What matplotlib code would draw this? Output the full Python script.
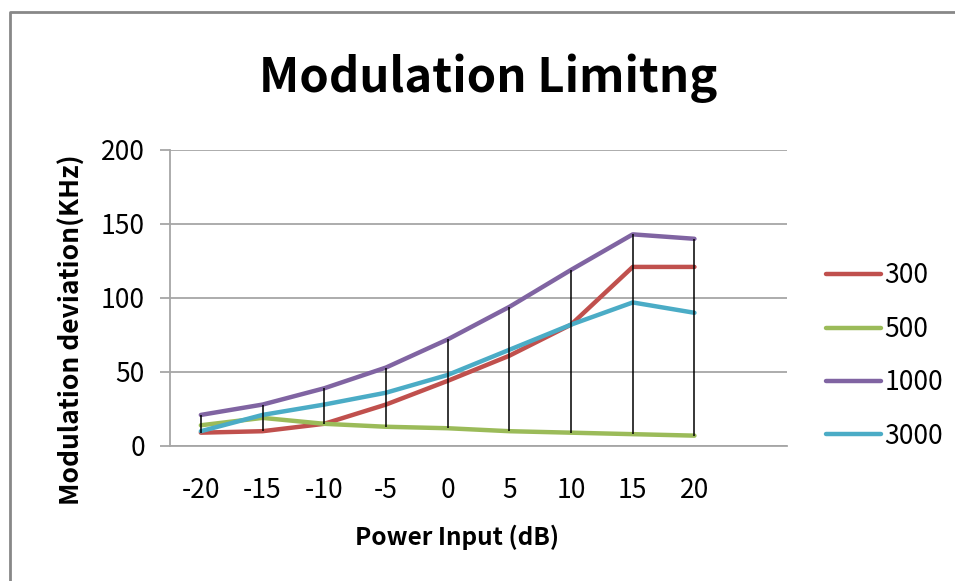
import matplotlib
matplotlib.use("Agg")
import matplotlib.pyplot as plt
from matplotlib.lines import Line2D

plt.rcParams['font.family'] = ['Noto Sans CJK KR', 'DejaVu Sans']

# power input (dB) categories
power_db = [-20, -15, -10, -5, 0, 5, 10, 15, 20]

# modulation deviation (KHz) per modulating frequency
dev_300 = [9, 10, 15, 28, 44, 61, 82, 121, 121]
dev_500 = [14, 19, 15, 13, 12, 10, 9, 8, 7]
dev_1000 = [21, 28, 39, 53, 72, 94, 119, 143, 140]
dev_3000 = [10, 21, 28, 36, 48, 65, 82, 97, 90]

series = [("300", dev_300, "#c0504d"),
          ("500", dev_500, "#9bbb59"),
          ("1000", dev_1000, "#8064a2"),
          ("3000", dev_3000, "#4bacc6")]

fig = plt.figure(figsize=(9.55, 5.81), dpi=100)
ax = fig.add_axes([170/955, 1 - 446/581, 617/955, 296/581])

xs = list(range(len(power_db)))
for name, vals, col in series:
    ax.plot(xs, vals, color=col, lw=3.2, label=name, solid_capstyle='round', zorder=3)

# high-low lines between the series
lows = [min(v) for v in zip(dev_300, dev_500, dev_1000, dev_3000)]
highs = [max(v) for v in zip(dev_300, dev_500, dev_1000, dev_3000)]
ax.vlines(xs, lows, highs, color='black', lw=1.1, zorder=4)

ax.set_xlim(-0.5, len(power_db) + 0.5)
ax.set_ylim(0, 200)
ax.set_yticks(range(0, 201, 50))
ax.set_xticks(xs)
ax.set_xticklabels([str(p) for p in power_db])
ax.yaxis.grid(True, color='#a6a6a6', lw=1.3)
ax.set_axisbelow(True)
for s in ['top', 'right']:
    ax.spines[s].set_visible(False)
ax.spines['left'].set_color('#a6a6a6')
ax.spines['bottom'].set_color('#a6a6a6')
ax.spines['left'].set_linewidth(1.3)
ax.spines['bottom'].set_linewidth(1.3)
ax.tick_params(axis='y', length=7, color='#a6a6a6', width=1.3, labelsize=19, pad=11)
ax.tick_params(axis='x', length=0, labelsize=19, pad=22)

fig.text(488/955, 1 - 78/581, "Modulation Limitng", ha='center', va='center',
         fontsize=34, fontweight='bold')
fig.text(72/955, 1 - 330/581, "Modulation deviation(KHz)", ha='center', va='center',
         rotation=90, fontsize=19, fontweight='bold')
fig.text(457/955, 1 - 537/581, "Power Input (dB)", ha='center', va='center',
         fontsize=17.5, fontweight='bold')

ax.legend(loc='center left', bbox_to_anchor=(802/955, 1 - 356/581),
          bbox_transform=fig.transFigure, frameon=False, fontsize=19,
          handlelength=2.1, handletextpad=0.12, labelspacing=1.0)

# outer chart border: only top and left edges show in the crop
fig.add_artist(Line2D([10/955, 10/955, 1.0], [0.0, 1 - 12/581, 1 - 12/581],
                      transform=fig.transFigure, color='#888888', lw=2))

fig.savefig("out.png", dpi=100)
